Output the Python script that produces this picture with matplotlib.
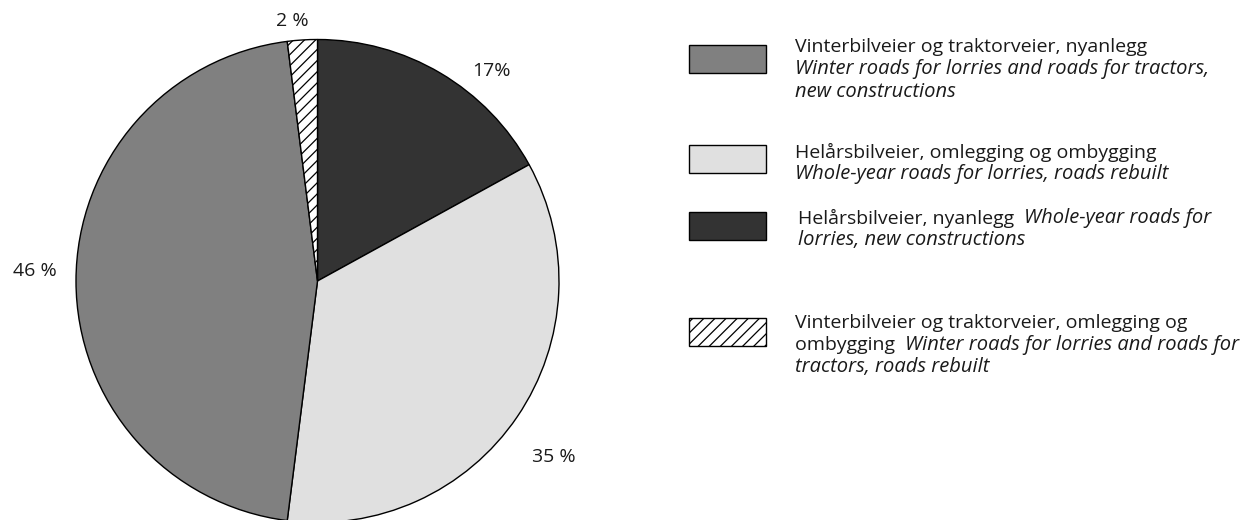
import numpy as np
import matplotlib
matplotlib.use("Agg")
import matplotlib.pyplot as plt
from matplotlib.patches import Rectangle

plt.rcParams['font.family'] = ['Open Sans', 'DejaVu Sans']
plt.rcParams['hatch.linewidth'] = 0.9

# Data (clockwise from 12 o'clock)
categories = ["Helårsbilveier, nyanlegg", "Helårsbilveier, omlegging og ombygging",
              "Vinterbilveier og traktorveier, nyanlegg",
              "Vinterbilveier og traktorveier, omlegging og ombygging"]
values = [17, 35, 46, 2]
pct_labels = ["17%", "35 %", "46 %", "2 %"]
colors = ["#333333", "#e0e0e0", "#808080", "#ffffff"]
hatches = [None, None, None, "///"]
# label placement (radius, angle shift in degrees from wedge middle)
label_r = [1.13, 1.22, 1.17, 1.08]
label_shift = [-9, -2.5, -2, 2]

legend_order = [2, 1, 0, 3]
legend_blocks = [
    [[("Vinterbilveier og traktorveier, nyanlegg", "normal")],
     [("Winter roads for lorries and roads for tractors,", "italic")],
     [("new constructions", "italic")]],
    [[("Helårsbilveier, omlegging og ombygging", "normal")],
     [("Whole-year roads for lorries, roads rebuilt", "italic")]],
    [[("Helårsbilveier, nyanlegg  ", "normal"), ("Whole-year roads for", "italic")],
     [("lorries, new constructions", "italic")]],
    [[("Vinterbilveier og traktorveier, omlegging og", "normal")],
     [("ombygging  ", "normal"), ("Winter roads for lorries and roads for", "italic")],
     [("tractors, roads rebuilt", "italic")]],
]

W, H = 1249, 520
fig = plt.figure(figsize=(W / 100, H / 100), dpi=100)

# Pie axes
cx, cy, R = 317.5, 520 - 281, 241.5
lim = 1.3
half = R * lim
ax = fig.add_axes([(cx - half) / W, (cy - half) / H, 2 * half / W, 2 * half / H])
wedges, _ = ax.pie(values, colors=colors, startangle=90, counterclock=False,
                   radius=1.0, wedgeprops=dict(edgecolor="black", linewidth=1.0))
for w, h in zip(wedges, hatches):
    if h:
        w.set_hatch(h)
ax.set_xlim(-lim, lim)
ax.set_ylim(-lim, lim)
ax.set_aspect('equal')
ax.axis('off')

lab_fs = 14
for w, lab, r, sh in zip(wedges, pct_labels, label_r, label_shift):
    mid = np.deg2rad((w.theta1 + w.theta2) / 2 + sh)
    ax.text(r * np.cos(mid), r * np.sin(mid), lab, ha='center', va='center',
            fontsize=lab_fs, color='#1a1a1a')

# Legend
box_x0, box_w, box_h = 689, 77, 28
box_tops = [45, 145, 212, 318]
text_x = [795, 795, 798, 795]
line_y = [[47, 69, 92], [152, 174], [218, 240], [323, 345, 367]]
fs = {"normal": 14, "italic": 14.5}
for k, idx in enumerate(legend_order):
    top = box_tops[k]
    rect = Rectangle((box_x0 / W, (H - top - box_h) / H), box_w / W, box_h / H,
                     transform=fig.transFigure, facecolor=colors[idx],
                     edgecolor='black', linewidth=1.0, hatch=hatches[idx])
    fig.patches.append(rect)
    for li, line in enumerate(legend_blocks[k]):
        y = (H - line_y[k][li]) / H
        prev = None
        for txt, style in line:
            if prev is None:
                prev = fig.text(text_x[k] / W, y, txt, ha='left', va='center',
                                fontsize=fs[style], style=style, color='#1a1a1a')
            else:
                prev = ax.annotate(txt, xy=(1, 0.5), xycoords=prev, ha='left',
                                   va='center', fontsize=fs[style], style=style,
                                   color='#1a1a1a', annotation_clip=False)
fig.savefig("out.png", dpi=100)
